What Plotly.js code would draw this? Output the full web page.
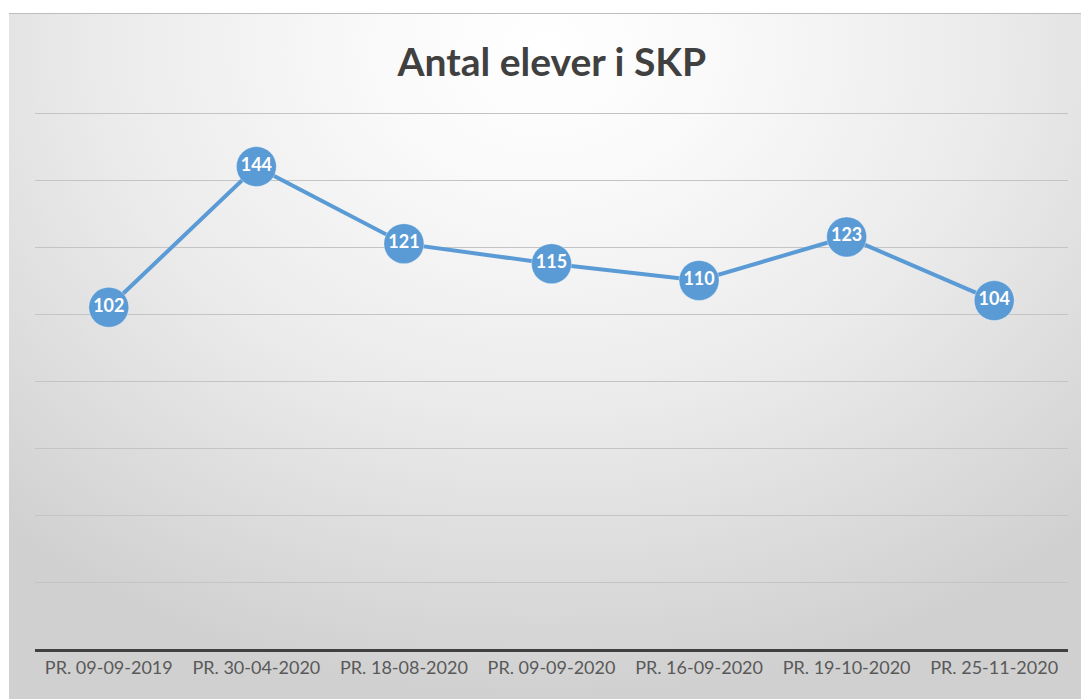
<!DOCTYPE html>
<html>
<head>
<meta charset="utf-8">
<script src="https://cdn.plot.ly/plotly-3.0.1.min.js"></script>
<style>
  html, body { margin:0; padding:0; width:1081px; height:699px; overflow:hidden; background:#ffffff; }
  #frame { position:absolute; left:9px; top:13px; width:1072px; height:686px;
    border-top:1px solid #bdbdbd;
    background: radial-gradient(ellipse 75% 95% at 50% 5%, #ffffff 0%, #f9f9f9 22%, #ebebeb 55%, #d9d9d9 85%, #d0d0d0 100%); }
  #chart { position:absolute; left:0; top:0; width:1081px; height:699px; }
</style>
</head>
<body>
<div id="frame"></div>
<div id="chart"></div>
<script>
const categories = ["PR. 09-09-2019","PR. 30-04-2020","PR. 18-08-2020","PR. 09-09-2020","PR. 16-09-2020","PR. 19-10-2020","PR. 25-11-2020"];
const elever = [102, 144, 121, 115, 110, 123, 104];
const yTicks = [0, 20, 40, 60, 80, 100, 120, 140, 160];

const trace = {
  x: categories,
  y: elever,
  type: 'scatter',
  mode: 'lines+markers+text',
  line: {color: '#5b9bd5', width: 4},
  marker: {color: '#5b9bd5', size: 40, line: {color: 'rgba(255,255,255,0.35)', width: 1}},
  text: elever.map(String),
  textposition: 'middle center',
  textfont: {family: 'Lato, "Open Sans", sans-serif', size: 18, color: '#ffffff', weight: 'bold'},
  hoverinfo: 'x+y',
  cliponaxis: false
};

const layout = {
  width: 1081, height: 699,
  paper_bgcolor: 'rgba(0,0,0,0)',
  plot_bgcolor: 'rgba(0,0,0,0)',
  margin: {l: 35, r: 13, t: 111, b: 50},
  showlegend: false,
  title: {
    text: '<b>Antal elever i SKP</b>',
    font: {family: 'Lato, "Open Sans", sans-serif', size: 39, color: '#404040'},
    x: 0.5105, xanchor: 'center', y: 0.911, yanchor: 'middle'
  },
  xaxis: {
    type: 'category',
    range: [-0.5, 6.5],
    showgrid: false,
    zeroline: false,
    showline: true, linecolor: '#404040', linewidth: 3,
    ticks: '',
    tickfont: {family: 'Lato, "Open Sans", sans-serif', size: 18, color: '#595959'},
    ticklabelstandoff: 0,
    fixedrange: true
  },
  yaxis: {
    range: [0, 160.6],
    tickvals: yTicks,
    showticklabels: false,
    showgrid: true, gridcolor: '#c4c4c4', gridwidth: 1,
    zeroline: false,
    showline: false,
    ticks: '',
    fixedrange: true
  }
};

Plotly.newPlot('chart', [trace], layout, {displayModeBar: false, staticPlot: true});
</script>
</body>
</html>
